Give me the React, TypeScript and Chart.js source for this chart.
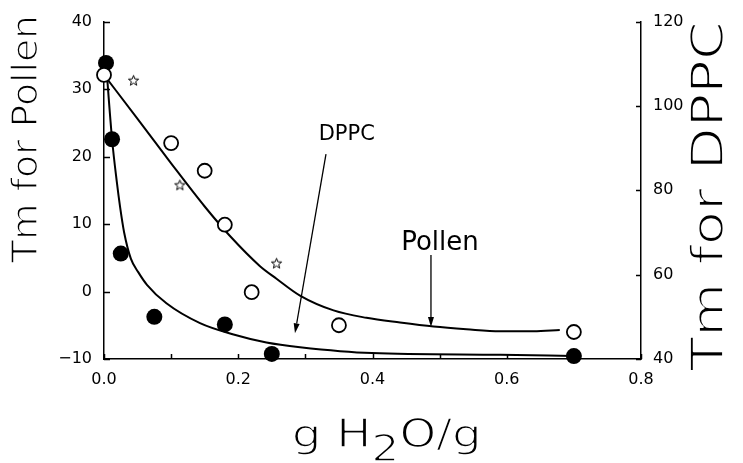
import React, { useEffect, useRef } from 'react';
import { Chart, registerables } from 'chart.js';

Chart.register(...registerables);

// ---- axes ----
const X_MIN = 0;
const X_MAX = 0.8;
const X_STEP = 0.2;
const X_MINOR_STEP = 0.1;
const POLLEN_MIN = -10;
const POLLEN_MAX = 40;
const POLLEN_STEP = 10;
const DPPC_MIN = 40;
const DPPC_MAX = 120;
const DPPC_STEP = 20;

// ---- measured points ----
// Pollen (open circles, left axis)
const POLLEN_X = [0.0, 0.10, 0.15, 0.18, 0.22, 0.35, 0.70];
const POLLEN_Y = [32.1, 22.0, 17.9, 9.9, -0.1, -5.0, -6.0];
// DPPC (filled circles, right axis)
const DPPC_X = [0.003, 0.012, 0.025, 0.075, 0.18, 0.25, 0.70];
const DPPC_Y = [110.2, 92.1, 65.0, 50.0, 48.2, 41.2, 40.7];
// stars (left axis)
const STAR_X = [0.044, 0.113, 0.257];
const STAR_Y = [31.3, 15.8, 4.2];

// ---- fitted curves ----
const POLLEN_FIT_X = [0.0, 0.05, 0.10, 0.15, 0.187, 0.232, 0.257, 0.292, 0.342, 0.391, 0.441, 0.491, 0.540, 0.590, 0.640, 0.679];
const POLLEN_FIT_Y = [32.1, 25.6, 19.0, 12.6, 8.3, 3.8, 1.9, -0.6, -2.8, -3.9, -4.6, -5.2, -5.6, -5.9, -5.9, -5.7];
const DPPC_FIT_X = [0.003, 0.012, 0.019, 0.024, 0.030, 0.040, 0.051, 0.064, 0.093, 0.143, 0.193, 0.242, 0.292, 0.399, 0.59, 0.699];
const DPPC_FIT_Y = [110.2, 92.1, 82.1, 76.0, 70.0, 63.8, 60.6, 57.6, 53.2, 48.5, 45.8, 43.9, 42.8, 41.4, 41.0, 40.7];

// ---- annotations (in x / pollen-axis units) ----
const NOTE_TEXT = ['DPPC', 'Pollen'];
const NOTE_X = [0.3616, 0.5005];
const NOTE_Y = [23.2, 7.2];
const NOTE_SIZE = [21, 26];
const ARROW_X1 = [0.3307, 0.4871];
const ARROW_Y1 = [20.35, 5.4];
const ARROW_X2 = [0.2845, 0.4871];
const ARROW_Y2 = [-6.2, -5.26];

// ---- titles ----
const TITLE_LEFT = 'Tm for Pollen';
const TITLE_RIGHT = 'Tm for DPPC';
const TITLE_X = ['g H', '2', 'O/g'];

const FONT = '"DejaVu Sans", "Liberation Sans", sans-serif';

function makeStar(): HTMLCanvasElement {
  const c = document.createElement('canvas');
  c.width = 13;
  c.height = 13;
  const g = c.getContext('2d')!;
  g.beginPath();
  for (let i = 0; i < 10; i++) {
    const r = i % 2 === 0 ? 5.4 : 2.3;
    const a = -Math.PI / 2 + (i * Math.PI) / 5;
    const px = 6.5 + r * Math.cos(a);
    const py = 7 + r * Math.sin(a);
    if (i === 0) g.moveTo(px, py);
    else g.lineTo(px, py);
  }
  g.closePath();
  g.strokeStyle = '#000';
  g.lineWidth = 1;
  g.stroke();
  return c;
}

function zip(xs: number[], ys: number[]) {
  return xs.map((x, i) => ({ x, y: ys[i] }));
}

function drawParts(
  ctx: CanvasRenderingContext2D,
  parts: { text: string; font: string; dy: number }[],
  cx: number,
  cy: number,
  rot: number,
  target: number,
  erode: number
) {
  ctx.save();
  const widths = parts.map((p) => {
    ctx.font = p.font;
    return ctx.measureText(p.text).width;
  });
  const total = widths.reduce((a, b) => a + b, 0);
  const s = target / total;
  ctx.translate(cx, cy);
  ctx.rotate(rot);
  ctx.scale(s, 1);
  ctx.fillStyle = '#000';
  ctx.strokeStyle = '#fff';
  ctx.lineWidth = erode;
  ctx.lineJoin = 'round';
  ctx.textAlign = 'left';
  ctx.textBaseline = 'alphabetic';
  let x = -total / 2;
  parts.forEach((p, i) => {
    ctx.font = p.font;
    ctx.fillText(p.text, x, p.dy);
    ctx.strokeText(p.text, x, p.dy);
    x += widths[i];
  });
  ctx.restore();
}

const decorPlugin = {
  id: 'decor',
  afterDraw(chart: any) {
    const { ctx, chartArea: a, scales } = chart;
    const sx = scales.x;
    const sy = scales.y;
    const sy2 = scales.y2;
    ctx.save();
    ctx.strokeStyle = '#000';
    ctx.lineWidth = 1.5;
    ctx.beginPath();
    for (let v = POLLEN_MIN; v <= POLLEN_MAX + 1e-9; v += POLLEN_STEP) {
      const p = Math.round(sy.getPixelForValue(v)) + 0.5;
      ctx.moveTo(a.left, p);
      ctx.lineTo(a.left + 6, p);
    }
    for (let v = DPPC_MIN; v <= DPPC_MAX + 1e-9; v += DPPC_STEP) {
      const p = Math.round(sy2.getPixelForValue(v)) + 0.5;
      ctx.moveTo(a.right, p);
      ctx.lineTo(a.right - 5, p);
    }
    for (let i = 0; ; i++) {
      const v = X_MIN + i * X_MINOR_STEP;
      if (v > X_MAX + 1e-9) break;
      const p = Math.round(sx.getPixelForValue(v)) + 0.5;
      ctx.moveTo(p, a.bottom);
      ctx.lineTo(p, a.bottom - 5);
    }
    ctx.stroke();

    // annotations
    ctx.fillStyle = '#000';
    ctx.textAlign = 'center';
    ctx.textBaseline = 'middle';
    NOTE_TEXT.forEach((t, i) => {
      ctx.font = `${NOTE_SIZE[i]}px ${FONT}`;
      ctx.fillText(t, sx.getPixelForValue(NOTE_X[i]), sy.getPixelForValue(NOTE_Y[i]));
    });
    ctx.lineWidth = 1.3;
    ARROW_X1.forEach((_, i) => {
      const x1 = sx.getPixelForValue(ARROW_X1[i]);
      const y1 = sy.getPixelForValue(ARROW_Y1[i]);
      const x2 = sx.getPixelForValue(ARROW_X2[i]);
      const y2 = sy.getPixelForValue(ARROW_Y2[i]);
      const ang = Math.atan2(y2 - y1, x2 - x1);
      const hl = 10;
      const hw = 3;
      const bx = x2 - hl * Math.cos(ang);
      const by = y2 - hl * Math.sin(ang);
      ctx.beginPath();
      ctx.moveTo(x1, y1);
      ctx.lineTo(bx, by);
      ctx.stroke();
      ctx.beginPath();
      ctx.moveTo(x2, y2);
      ctx.lineTo(bx + hw * Math.sin(ang), by - hw * Math.cos(ang));
      ctx.lineTo(bx - hw * Math.sin(ang), by + hw * Math.cos(ang));
      ctx.closePath();
      ctx.fill();
    });

    // axis titles
    drawParts(ctx, [{ text: TITLE_LEFT, font: `35px ${FONT}`, dy: 0 }], 36.7, 139, -Math.PI / 2, 248, 1.4);
    drawParts(ctx, [{ text: TITLE_RIGHT, font: `45px ${FONT}`, dy: 0 }], 723.3, 196, -Math.PI / 2, 350, 1.8);
    drawParts(
      ctx,
      [
        { text: TITLE_X[0], font: `39px ${FONT}`, dy: 0 },
        { text: TITLE_X[1], font: `37px ${FONT}`, dy: 14 },
        { text: TITLE_X[2], font: `39px ${FONT}`, dy: 0 },
      ],
      386.7,
      446.7,
      0,
      190,
      1.5
    );
    ctx.restore();
  },
};

export default function App() {
  const ref = useRef<HTMLCanvasElement>(null);
  useEffect(() => {
    document.body.style.margin = '0';
    const star = makeStar();
    const tickFont = { family: FONT, size: 16 };
    const chart = new Chart(ref.current!, {
      type: 'scatter',
      data: {
        datasets: [
          {
            label: 'Pollen fit',
            data: zip(POLLEN_FIT_X, POLLEN_FIT_Y),
            yAxisID: 'y',
            showLine: true,
            pointRadius: 0,
            borderColor: '#000',
            borderWidth: 2,
            cubicInterpolationMode: 'monotone',
            order: 10,
            clip: false,
          } as any,
          {
            label: 'DPPC fit',
            data: zip(DPPC_FIT_X, DPPC_FIT_Y),
            yAxisID: 'y2',
            showLine: true,
            pointRadius: 0,
            borderColor: '#000',
            borderWidth: 2,
            cubicInterpolationMode: 'monotone',
            order: 10,
            clip: false,
          } as any,
          {
            label: 'Pollen',
            data: zip(POLLEN_X, POLLEN_Y),
            yAxisID: 'y',
            pointRadius: 7,
            pointBorderWidth: 1.8,
            pointBorderColor: '#000',
            pointBackgroundColor: '#fff',
            order: 1,
            clip: false,
          } as any,
          {
            label: 'DPPC',
            data: zip(DPPC_X, DPPC_Y),
            yAxisID: 'y2',
            pointRadius: 8,
            pointBorderWidth: 0,
            pointBorderColor: '#000',
            pointBackgroundColor: '#000',
            order: 1,
            clip: false,
          } as any,
          {
            label: 'Stars',
            data: zip(STAR_X, STAR_Y),
            yAxisID: 'y',
            pointStyle: star,
            pointRadius: 6,
            order: 1,
            clip: false,
          } as any,
        ],
      },
      options: {
        animation: false,
        responsive: false,
        devicePixelRatio: 1,
        events: [],
        layout: { padding: { top: 18, left: 0, right: 0, bottom: 0 } },
        plugins: { legend: { display: false }, tooltip: { enabled: false } },
        scales: {
          x: {
            type: 'linear',
            position: 'bottom',
            min: X_MIN,
            max: X_MAX,
            ticks: {
              stepSize: X_STEP,
              padding: 11,
              color: '#000',
              font: tickFont,
              callback: (v: any) => Number(v).toFixed(1),
            },
            grid: { display: false, drawTicks: false },
            border: { display: true, color: '#000', width: 1.5 },
            afterFit: (s: any) => {
              s.height = 104;
            },
          },
          y: {
            type: 'linear',
            position: 'left',
            min: POLLEN_MIN,
            max: POLLEN_MAX,
            ticks: {
              stepSize: POLLEN_STEP,
              padding: 12,
              color: '#000',
              font: tickFont,
              callback: (v: any) => (v < 0 ? '\u2212' + Math.abs(v) : String(v)),
            },
            grid: { display: false, drawTicks: false },
            border: { display: true, color: '#000', width: 1.5 },
            afterFit: (s: any) => {
              s.width = 104;
            },
          },
          y2: {
            type: 'linear',
            position: 'right',
            min: DPPC_MIN,
            max: DPPC_MAX,
            ticks: {
              stepSize: DPPC_STEP,
              padding: 12,
              color: '#000',
              font: tickFont,
            },
            grid: { display: false, drawTicks: false },
            border: { display: true, color: '#000', width: 1.5 },
            afterFit: (s: any) => {
              s.width = 102;
            },
          },
        },
      } as any,
      plugins: [decorPlugin],
    });
    return () => chart.destroy();
  }, []);
  return (
    <div style={{ position: 'fixed', left: 0, top: 0, width: 743, height: 463, background: '#fff' }}>
      <canvas ref={ref} width={743} height={463} style={{ display: 'block' }} />
    </div>
  );
}
